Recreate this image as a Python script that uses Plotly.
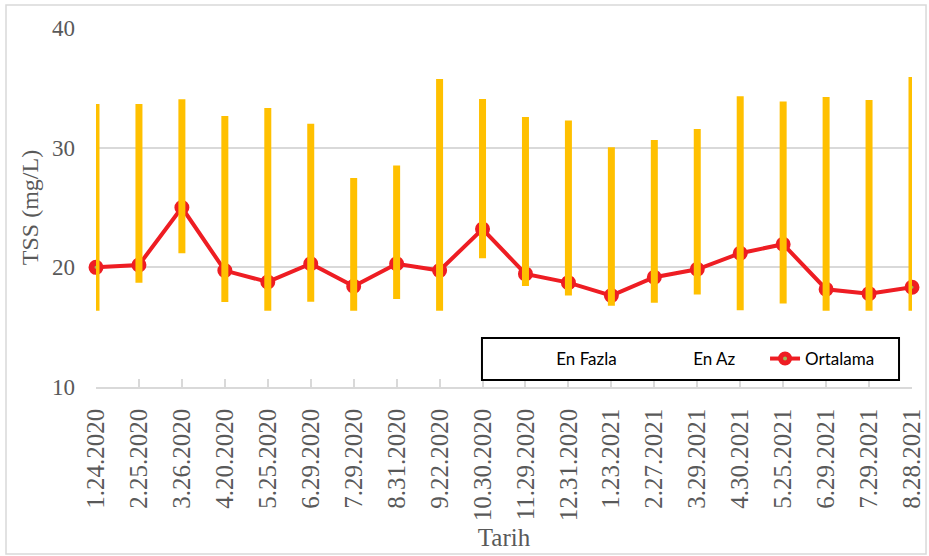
import plotly.graph_objects as go

dates = ["1.24.2020", "2.25.2020", "3.26.2020", "4.20.2020", "5.25.2020",
         "6.29.2020", "7.29.2020", "8.31.2020", "9.22.2020", "10.30.2020",
         "11.29.2020", "12.31.2020", "1.23.2021", "2.27.2021", "3.29.2021",
         "4.30.2021", "5.25.2021", "6.29.2021", "7.29.2021", "8.28.2021"]
en_fazla = [33.65, 33.65, 34.04, 32.65, 33.32, 32.0, 27.47, 28.5, 35.74, 34.07,
            32.56, 32.26, 30.03, 30.64, 31.56, 34.29, 33.85, 34.24, 33.98, 35.9]
en_az = [16.38, 18.72, 21.18, 17.11, 16.38, 17.13, 16.38, 17.36, 16.38, 20.76,
         18.45, 17.64, 16.78, 17.05, 17.72, 16.41, 16.97, 16.38, 16.38, 16.38]
ortalama = [20.0, 20.2, 25.0, 19.73, 18.78, 20.3, 18.42, 20.3, 19.73, 23.2,
            19.45, 18.72, 17.64, 19.17, 19.84, 21.18, 21.93, 18.17, 17.8, 18.33]
y_ticks = [10, 20, 30, 40]

idx = list(range(len(dates)))

# vertical high-low segments built from the min/max series
seg_x, seg_y = [], []
for i in idx:
    seg_x += [i, i, None]
    seg_y += [en_az[i], en_fazla[i], None]

GRAY = "#595959"
GRID = "#D9D9D9"
SERIF = "Liberation Serif, Times New Roman, serif"
SANS = "Lato, Carlito, sans-serif"

fig = go.Figure()
fig.add_trace(go.Scatter(x=idx, y=en_fazla, name="En Fazla", mode="lines",
                         line=dict(width=0, color="rgba(0,0,0,0)"),
                         hoverinfo="skip", legend="legend"))
fig.add_trace(go.Scatter(x=idx, y=en_az, name="En Az", mode="lines",
                         line=dict(width=0, color="rgba(0,0,0,0)"),
                         hoverinfo="skip", legend="legend"))
fig.add_trace(go.Scatter(x=idx, y=ortalama, name="Ortalama", mode="lines+markers",
                         line=dict(color="#EE1D23", width=4),
                         marker=dict(size=9, color="#9BBB59",
                                     line=dict(color="#EE1D23", width=6)),
                         cliponaxis=False, legend="legend2"))
fig.add_trace(go.Scatter(x=seg_x, y=seg_y, mode="lines", showlegend=False,
                         line=dict(color="#FFC000", width=7), hoverinfo="skip"))

fig.update_layout(
    width=929, height=556,
    margin=dict(l=96, r=17, t=28, b=169, autoexpand=False),
    paper_bgcolor="white", plot_bgcolor="white",
    showlegend=True,
    legend=dict(orientation="h", x=0.515, y=0.078, xanchor="left", yanchor="middle",
                bgcolor="rgba(0,0,0,0)", borderwidth=0, entrywidth=92,
                font=dict(family=SANS, size=17, color="black")),
    legend2=dict(orientation="h", x=0.8199, y=0.078, xanchor="left", yanchor="middle",
                 bgcolor="rgba(0,0,0,0)", borderwidth=0,
                 font=dict(family=SANS, size=17, color="black")),
    xaxis=dict(range=[0, 19], tickmode="array", tickvals=idx, ticktext=dates,
               tickangle=-90, showgrid=False, zeroline=False,
               showline=True, linecolor=GRID, linewidth=1.5,
               ticks="inside", ticklen=8, tickcolor=GRID, tickwidth=1.5,
               ticklabelstandoff=10,
               tickfont=dict(family=SERIF, size=25, color=GRAY),
               title=dict(text="Tarih", font=dict(family=SERIF, size=25, color=GRAY),
                          standoff=8)),
    yaxis=dict(range=[10, 40], tickvals=y_ticks, showgrid=True, gridcolor=GRID,
               gridwidth=1.5, zeroline=False, showline=False, ticks="",
               ticklabelstandoff=20,
               tickfont=dict(family=SERIF, size=23, color=GRAY),
               title=dict(text="TSS (mg/L)", font=dict(family=SERIF, size=24, color=GRAY),
                          standoff=6)),
    shapes=[
        dict(type="rect", xref="paper", yref="paper", x0=-0.1103, x1=1.0172,
             y0=-0.4652, y1=1.0641, line=dict(color=GRID, width=1.5), layer="below"),
        dict(type="rect", xref="paper", yref="paper", x0=0.4730, x1=0.9841,
             y0=0.0195, y1=0.1365, line=dict(color="black", width=2),
             fillcolor="white", layer="above"),
    ],
)
fig.write_html("out.html", config={"displayModeBar": False},
               post_script="document.body.style.margin='0';document.body.style.overflow='hidden';")
